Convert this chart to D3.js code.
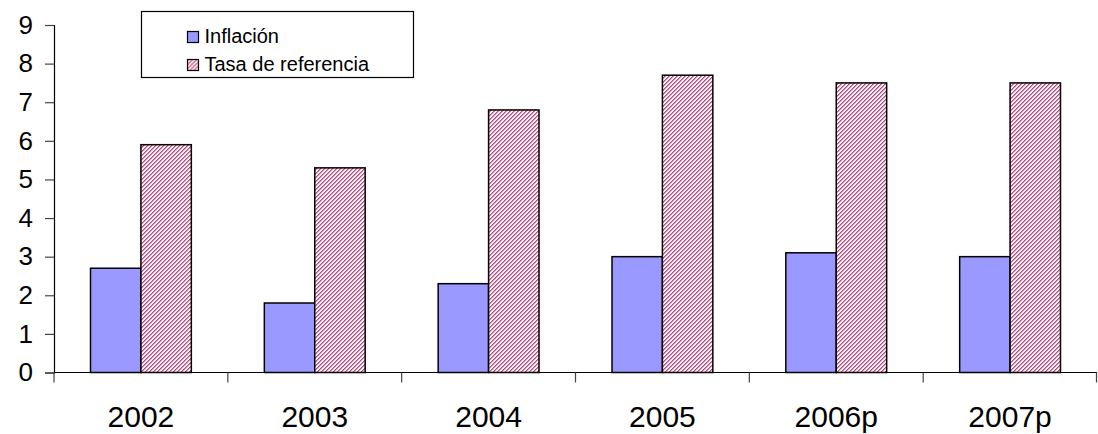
<!DOCTYPE html>
<html>
<head>
<meta charset="utf-8">
<script src="https://cdn.jsdelivr.net/npm/d3@7"></script>
<style>
  html, body { margin: 0; padding: 0; background: #fff; }
  svg { display: block; font-family: "Liberation Sans", Arial, sans-serif; }
</style>
</head>
<body>
<svg id="chart" width="1098" height="434"></svg>
<script>
// Chart data
const categories = ["2002", "2003", "2004", "2005", "2006p", "2007p"];
const inflacion = [2.7, 1.8, 2.3, 3.0, 3.1, 3.0];
const tasaReferencia = [5.9, 5.3, 6.8, 7.7, 7.5, 7.5];
const seriesNames = ["Inflación", "Tasa de referencia"];
const yTicks = [0, 1, 2, 3, 4, 5, 6, 7, 8, 9];

const svg = d3.select("#chart");
const margin = { left: 54, right: 1, top: 25, bottom: 62 };
const W = 1098, H = 434;

const x = d3.scaleBand().domain(categories).range([margin.left, W - margin.right]).paddingInner(0).paddingOuter(0);
const y = d3.scaleLinear().domain([0, 9]).range([H - margin.bottom + 0.5, margin.top]);

// Fine diagonal hatch for the second series
const defs = svg.append("defs");
const pat = defs.append("pattern")
  .attr("id", "hatch").attr("patternUnits", "userSpaceOnUse")
  .attr("width", 4).attr("height", 4);
pat.append("rect").attr("width", 4).attr("height", 4).attr("fill", "#fdf4f8");
for (let py = 0; py < 4; py++) {
  for (let px = 0; px < 4; px++) {
    const k = (px + py) % 4;
    if (k === 0) pat.append("rect").attr("x", px).attr("y", py).attr("width", 1).attr("height", 1).attr("fill", "#b84a7c");
    if (k === 1) pat.append("rect").attr("x", px).attr("y", py).attr("width", 1).attr("height", 1).attr("fill", "#e08ab0");
  }
}

const fills = ["#9999ff", "url(#hatch)"];
const series = [inflacion, tasaReferencia];

// Bars
const groupWidth = x.bandwidth() * 0.58;
const sub = d3.scaleBand().domain(d3.range(series.length)).range([0, groupWidth]);
series.forEach((vals, si) => {
  svg.append("g").selectAll("rect").data(vals).join("rect")
    .attr("x", (d, i) => x(categories[i]) + (x.bandwidth() - groupWidth) / 2 + sub(si))
    .attr("y", d => y(d))
    .attr("width", sub.bandwidth())
    .attr("height", d => y(0) - y(d))
    .attr("fill", fills[si])
    .attr("stroke", "#000")
    .attr("stroke-width", 1.5);
});

// Y axis
const yAxis = d3.axisLeft(y).tickValues(yTicks).tickSize(9).tickPadding(12).tickFormat(d3.format("d"));
const gy = svg.append("g").attr("transform", `translate(${margin.left},0)`).call(yAxis);
gy.select(".domain").attr("stroke", "#000").attr("stroke-width", 1.2);
gy.selectAll(".tick line").attr("stroke", "#444").attr("stroke-width", 1.2);
gy.selectAll(".tick text").attr("font-size", 26).attr("fill", "#000")
  .attr("font-family", "'Liberation Sans', Arial, sans-serif");

// X axis with ticks between categories
const xAxisG = svg.append("g").attr("transform", `translate(0,${y(0)})`);
xAxisG.append("line").attr("x1", margin.left).attr("x2", W - margin.right)
  .attr("stroke", "#000").attr("stroke-width", 1.2);
const bounds = categories.map(c => x(c) + x.bandwidth()).concat([x(categories[0])]);
xAxisG.selectAll(".sep").data(bounds).join("line")
  .attr("x1", d => Math.min(d, W - 1.5)).attr("x2", d => Math.min(d, W - 1.5))
  .attr("y1", 0).attr("y2", 10).attr("stroke", "#444").attr("stroke-width", 1.2);
xAxisG.selectAll(".lbl").data(categories).join("text")
  .attr("x", d => x(d) + x.bandwidth() / 2)
  .attr("y", 54)
  .attr("text-anchor", "middle")
  .attr("font-size", 30)
  .attr("fill", "#000")
  .text(d => d);

// Legend
const lg = svg.append("g").attr("transform", "translate(141.5,11.5)");
lg.append("rect").attr("width", 272).attr("height", 66).attr("fill", "#fff")
  .attr("stroke", "#000").attr("stroke-width", 1.2);
seriesNames.forEach((name, i) => {
  const row = lg.append("g").attr("transform", `translate(46,${20 + i * 28})`);
  row.append("rect").attr("width", 11).attr("height", 11).attr("fill", fills[i])
    .attr("stroke", "#000").attr("stroke-width", 1.2);
  row.append("text").attr("x", 17).attr("y", 11.5).attr("font-size", 20).attr("fill", "#000").text(name);
});
</script>
</body>
</html>
